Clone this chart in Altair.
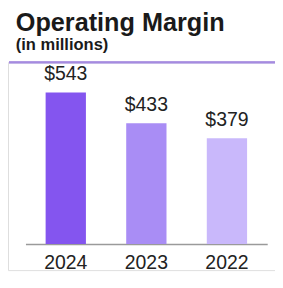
import altair as alt
import pandas as pd

years = ["2024", "2023", "2022"]
values = [543, 433, 379]
labels = ["$543", "$433", "$379"]
colors = ["#8455ef", "#a98df5", "#c9b8fb"]

df = pd.DataFrame({"year": years, "value": values, "label": labels})

FONT = "Liberation Sans"

x = alt.X(
    "year:N",
    sort=years,
    scale=alt.Scale(range=[18, 267], paddingInner=0.5, paddingOuter=0.25),
    axis=alt.Axis(
        title=None, labelAngle=0, ticks=False, domainColor="#9a9a9a", domainWidth=1.5,
        labelFont=FONT, labelFontSize=20, labelColor="#222222",
        labelBaseline="alphabetic", labelPadding=25, offset=-27, grid=False,
    ),
)
y = alt.Y("value:Q", scale=alt.Scale(domain=[-94.0, 650.9], nice=False, zero=False), axis=None)

bars = alt.Chart(df).mark_bar().encode(
    x=x, y=y, y2=alt.datum(0),
    color=alt.Color("year:N", scale=alt.Scale(domain=years, range=colors), legend=None),
)
text = alt.Chart(df).mark_text(dy=-13, baseline="alphabetic", font=FONT, fontSize=20, color="#222222").encode(
    x=alt.X("year:N", sort=years), y=y, text="label:N"
)
topline = alt.Chart(df).mark_rule(color="#a58be0", strokeWidth=2).encode(
    x=alt.value(1), x2=alt.value(275), y=alt.value(0)
)

chart = alt.layer(bars, text, topline).properties(
    width=275, height=214,
    autosize=alt.AutoSizeParams(type="none"),
    padding={"left": 0, "top": 52, "right": 0, "bottom": 0},
    title=alt.TitleParams(
        text="Operating Margin", subtitle="(in millions)",
        anchor="start", frame="group", dx=8, offset=9,
        font=FONT, fontSize=26, fontWeight="bold", color="#1a1a1a",
        subtitleFont=FONT, subtitleFontSize=17, subtitleFontWeight="bold",
        subtitleColor="#1a1a1a", subtitlePadding=1,
    ),
).configure_view(fill="#f4f3f6", stroke=None).configure(background="white")

chart.save("out.html", embed_options={"renderer": "svg", "actions": False})
